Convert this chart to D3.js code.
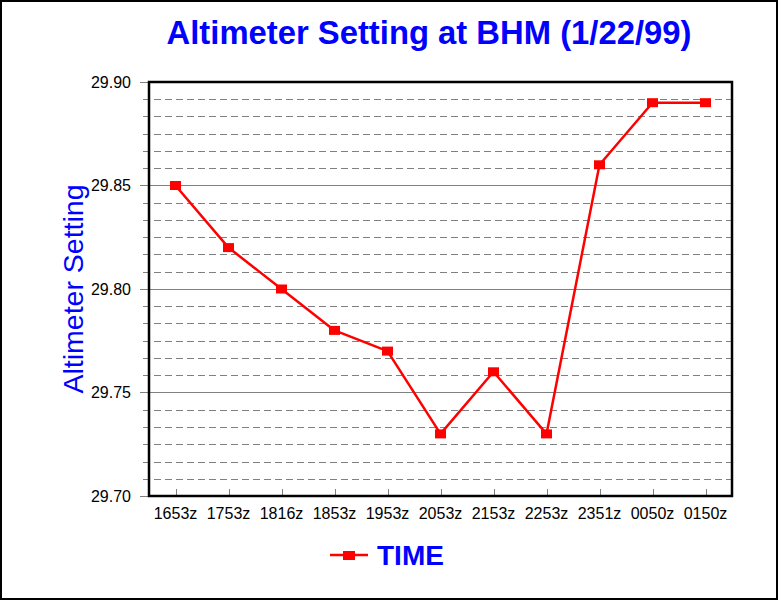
<!DOCTYPE html>
<html>
<head>
<meta charset="utf-8">
<script src="https://cdn.jsdelivr.net/npm/d3@7"></script>
<style>
  html, body { margin: 0; padding: 0; background: #fff; }
  svg { display: block; }
</style>
</head>
<body>
<script>
const categories = ["1653z","1753z","1816z","1853z","1953z","2053z","2153z","2253z","2351z","0050z","0150z"];
const values = [29.85, 29.82, 29.80, 29.78, 29.77, 29.73, 29.76, 29.73, 29.86, 29.89, 29.89];
const yTicks = [29.70, 29.75, 29.80, 29.85, 29.90];
const seriesName = "TIME";
const titleText = "Altimeter Setting at BHM (1/22/99)";
const yTitle = "Altimeter Setting";

const W = 778, H = 600;
const pLeft = 149, pRight = 732, pTop = 82, pBottom = 496;

const svg = d3.select("body").append("svg").attr("width", W).attr("height", H);
svg.append("rect").attr("x", 1).attr("y", 1).attr("width", W - 2).attr("height", H - 2)
  .attr("fill", "#fff").attr("stroke", "#000").attr("stroke-width", 2);

const x = d3.scaleBand().domain(categories).range([pLeft, pRight]);
const y = d3.scaleLinear().domain([29.70, 29.90]).range([pBottom, pTop]);

// minor dashed gridlines (6 per major interval)
const minor = [];
for (let i = 0; i < yTicks.length - 1; i++) {
  for (let k = 1; k < 6; k++) minor.push(yTicks[i] + (yTicks[i + 1] - yTicks[i]) * k / 6);
}
svg.append("g").selectAll("line").data(minor).join("line")
  .attr("x1", 143).attr("x2", pRight)
  .attr("y1", d => Math.round(y(d)) + 0.5).attr("y2", d => Math.round(y(d)) + 0.5)
  .attr("stroke", "#808080").attr("stroke-width", 1).attr("stroke-dasharray", "7,4");

// major gridlines
svg.append("g").selectAll("line").data(yTicks).join("line")
  .attr("x1", 140).attr("x2", pRight)
  .attr("y1", d => Math.round(y(d)) + 0.5).attr("y2", d => Math.round(y(d)) + 0.5)
  .attr("stroke", "#808080").attr("stroke-width", 1);

// y tick labels
svg.append("g").selectAll("text").data(yTicks).join("text")
  .attr("x", 131).attr("y", d => y(d)).attr("dy", "0.36em")
  .attr("text-anchor", "end")
  .attr("font-family", "Arial, 'Liberation Sans', sans-serif").attr("font-size", 16)
  .text(d => d3.format(".2f")(d));

// x ticks
svg.append("g").selectAll("line").data(categories).join("line")
  .attr("x1", d => Math.round(x(d) + x.bandwidth() / 2) + 0.5)
  .attr("x2", d => Math.round(x(d) + x.bandwidth() / 2) + 0.5)
  .attr("y1", 489).attr("y2", pBottom)
  .attr("stroke", "#808080").attr("stroke-width", 1);

svg.append("g").selectAll("text").data(categories).join("text")
  .attr("x", d => x(d) + x.bandwidth() / 2).attr("y", 519)
  .attr("text-anchor", "middle")
  .attr("font-family", "Arial, 'Liberation Sans', sans-serif").attr("font-size", 16)
  .text(d => d);

// frame
svg.append("rect").attr("x", pLeft).attr("y", pTop).attr("width", pRight - pLeft).attr("height", pBottom - pTop)
  .attr("fill", "none").attr("stroke", "#000").attr("stroke-width", 2.5);

// series line
const cx = d => x(d) + x.bandwidth() / 2;
const line = d3.line().x((d, i) => cx(categories[i])).y(d => y(d));
svg.append("path").datum(values).attr("d", line)
  .attr("fill", "none").attr("stroke", "#ff0000").attr("stroke-width", 2.5).attr("stroke-linejoin", "round");

svg.append("g").selectAll("rect").data(values).join("rect")
  .attr("x", (d, i) => cx(categories[i]) - 5.5).attr("y", d => y(d) - 4.5)
  .attr("width", 11).attr("height", 9).attr("fill", "#ff0000");

// title
svg.append("text").attr("x", 429).attr("y", 44).attr("text-anchor", "middle")
  .attr("font-family", "Arial, 'Liberation Sans', sans-serif").attr("font-weight", "bold")
  .attr("font-size", 32.8).attr("fill", "#0000ff").text(titleText);

// y axis title
svg.append("text").attr("transform", "translate(83,289) rotate(-90)").attr("text-anchor", "middle")
  .attr("font-family", "Arial, 'Liberation Sans', sans-serif")
  .attr("font-size", 28.5).attr("fill", "#0000ff").text(yTitle);

// legend
const lg = svg.append("g");
lg.append("line").attr("x1", 330).attr("x2", 368).attr("y1", 555).attr("y2", 555)
  .attr("stroke", "#ff0000").attr("stroke-width", 2.5);
lg.append("rect").attr("x", 343).attr("y", 551).attr("width", 12).attr("height", 9).attr("fill", "#ff0000");
lg.append("text").attr("x", 377).attr("y", 565)
  .attr("font-family", "Arial, 'Liberation Sans', sans-serif").attr("font-weight", "bold")
  .attr("font-size", 28).attr("fill", "#0000ff").text(seriesName);
</script>
</body>
</html>
